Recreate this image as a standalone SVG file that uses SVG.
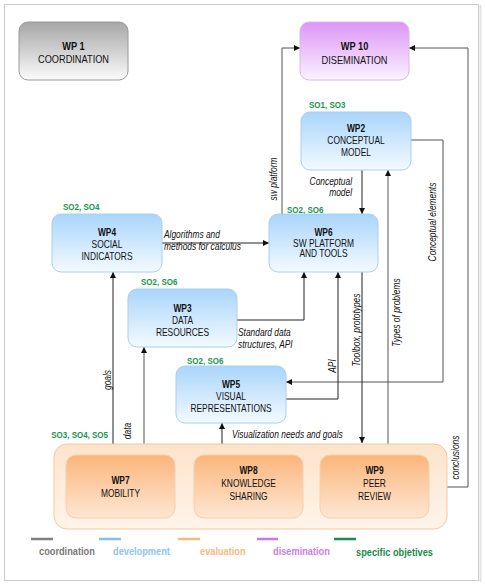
<svg xmlns="http://www.w3.org/2000/svg" width="485" height="586" viewBox="0 0 485 586">
<defs>
  <linearGradient id="gBlue" x1="0" y1="0" x2="0" y2="1">
    <stop offset="0" stop-color="#a9d5fb"/>
    <stop offset="1" stop-color="#f4faff"/>
  </linearGradient>
  <linearGradient id="gGray" x1="0" y1="0" x2="0" y2="1">
    <stop offset="0" stop-color="#a6a6a6"/>
    <stop offset="1" stop-color="#fbfbfb"/>
  </linearGradient>
  <linearGradient id="gPurple" x1="0" y1="0" x2="0" y2="1">
    <stop offset="0" stop-color="#dc95f6"/>
    <stop offset="1" stop-color="#fbf3ff"/>
  </linearGradient>
  <linearGradient id="gOrange" x1="0" y1="0" x2="0" y2="1">
    <stop offset="0" stop-color="#fbb57a"/>
    <stop offset="1" stop-color="#fde7d4"/>
  </linearGradient>
  <linearGradient id="gCont" x1="0" y1="0" x2="0" y2="1">
    <stop offset="0" stop-color="#fde3cb"/>
    <stop offset="1" stop-color="#fff4ea"/>
  </linearGradient>
  <marker id="arr" viewBox="0 0 10 10" refX="10" refY="5" markerWidth="6" markerHeight="6" markerUnits="userSpaceOnUse" orient="auto">
    <path d="M0,0 L10,5 L0,10 z" fill="#111"/>
  </marker>
  <style>
    text { font-family: "Liberation Sans", Arial, sans-serif; }
    .node rect.b { fill: url(#gBlue); stroke: #a9cfee; stroke-width: 1; }
    .t { font-size: 10px; fill: #111; text-anchor: middle; }
    .tb { font-size: 10px; font-weight: bold; fill: #111; text-anchor: middle; }
    .big { font-size: 11px; }
    .so { font-size: 9.5px; font-weight: bold; fill: #17964f; }
    .lbl { font-size: 10px; font-style: italic; fill: #111; }
    .rot { font-size: 10px; font-style: italic; fill: #111; text-anchor: middle; }
    .c { fill: none; stroke: #222; stroke-width: 1; }
    .cg { fill: none; stroke: #555; stroke-width: 1; }
    .leg { font-size: 11px; font-weight: bold; }
  </style>
</defs>
<rect x="0" y="0" width="485" height="586" fill="#ffffff"/>
<rect x="4.5" y="4.5" width="474" height="576" fill="#ffffff" stroke="#cacaca" stroke-width="1"/>
<line x1="480.5" y1="5" x2="480.5" y2="582" stroke="#e4e4e4" stroke-width="2"/>

<g id="connectors">
  <path class="c" d="M162,243 H269" marker-end="url(#arr)"/>
  <path class="c" d="M362,170 V214" marker-end="url(#arr)"/>
  <path class="cg" d="M282,214 V48 H300" marker-end="url(#arr)"/>
  <path class="cg" d="M447,487 H468 V48 H409" marker-end="url(#arr)"/>
  <path class="cg" d="M411,140 H443 V382 H286" marker-end="url(#arr)"/>
  <path class="c" d="M237,320 H304 V272" marker-end="url(#arr)"/>
  <path class="c" d="M286,399 H338 V272" marker-end="url(#arr)"/>
  <path class="c" d="M362,272 V443" marker-end="url(#arr)"/>
  <path class="cg" d="M388,444 V170" marker-end="url(#arr)"/>
  <path class="c" d="M113,444 V272" marker-end="url(#arr)"/>
  <path class="cg" d="M144,444 V347" marker-end="url(#arr)"/>
  <path class="c" d="M222,444 V423" marker-end="url(#arr)"/>

  <text class="lbl" transform="translate(164,238) scale(0.84,1)">Algorithms and</text>
  <text class="lbl" transform="translate(164,250) scale(0.84,1)">methods for calculus</text>
  <text class="lbl" text-anchor="end" transform="translate(352,185) scale(0.84,1)">Conceptual</text>
  <text class="lbl" text-anchor="end" transform="translate(352,196) scale(0.84,1)">model</text>
  <text class="lbl" transform="translate(238,335.5) scale(0.84,1)">Standard data</text>
  <text class="lbl" transform="translate(238,348) scale(0.84,1)">structures, API</text>
  <text class="lbl" transform="translate(232,438) scale(0.84,1)">Visualization needs and goals</text>
  <text class="rot" transform="translate(277,179) rotate(-90) scale(0.84,1)">sw platform</text>
  <text class="rot" transform="translate(436,222) rotate(-90) scale(0.84,1)">Conceptual elements</text>
  <text class="rot" transform="translate(400,312.5) rotate(-90) scale(0.84,1)">Types of problems</text>
  <text class="rot" transform="translate(360,330) rotate(-90) scale(0.84,1)">Toolbox, prototypes</text>
  <text class="rot" transform="translate(335.5,366) rotate(-90) scale(0.84,1)">API</text>
  <text class="rot" transform="translate(110.5,380) rotate(-90) scale(0.84,1)">goals</text>
  <text class="rot" transform="translate(130.5,431) rotate(-90) scale(0.84,1)">data</text>
  <text class="rot" transform="translate(458.5,457.5) rotate(-90) scale(0.84,1)">conclusions</text>
</g>

<g id="wp1" class="node">
  <rect x="19" y="22" width="109" height="58" rx="9" fill="url(#gGray)" stroke="#9a9a9a"/>
  <text class="tb big" transform="translate(73.5,50) scale(0.84,1)">WP 1</text>
  <text class="t big" transform="translate(73.5,63) scale(0.84,1)">COORDINATION</text>
</g>
<g id="wp10" class="node">
  <rect x="300" y="22" width="109" height="58" rx="9" fill="url(#gPurple)" stroke="#dcb6ef"/>
  <text class="tb big" transform="translate(354.5,50) scale(0.84,1)">WP 10</text>
  <text class="t big" transform="translate(354.5,64) scale(0.84,1)">DISEMINATION</text>
</g>
<g id="wp2" class="node">
  <text class="so" transform="translate(309,108) scale(0.84,1)">SO1, SO3</text>
  <rect class="b" x="301" y="112" width="110" height="58" rx="9"/>
  <text class="tb" transform="translate(356,132) scale(0.84,1)">WP2</text>
  <text class="t" transform="translate(356,144) scale(0.84,1)">CONCEPTUAL</text>
  <text class="t" transform="translate(356,156) scale(0.84,1)">MODEL</text>
</g>
<g id="wp6" class="node">
  <text class="so" transform="translate(287,213) scale(0.84,1)">SO2, SO6</text>
  <rect class="b" x="269" y="214" width="109" height="58" rx="9"/>
  <text class="tb" transform="translate(323.5,236) scale(0.84,1)">WP6</text>
  <text class="t" transform="translate(323.5,247) scale(0.84,1)">SW PLATFORM</text>
  <text class="t" transform="translate(323.5,256.5) scale(0.84,1)">AND TOOLS</text>
</g>
<g id="wp4" class="node">
  <text class="so" transform="translate(63,210) scale(0.84,1)">SO2, SO4</text>
  <rect class="b" x="52" y="214" width="110" height="58" rx="9"/>
  <text class="tb" transform="translate(107,236) scale(0.84,1)">WP4</text>
  <text class="t" transform="translate(107,248) scale(0.84,1)">SOCIAL</text>
  <text class="t" transform="translate(107,259.5) scale(0.84,1)">INDICATORS</text>
</g>
<g id="wp3" class="node">
  <text class="so" transform="translate(141,285) scale(0.84,1)">SO2, SO6</text>
  <rect class="b" x="128" y="289" width="109" height="58" rx="9"/>
  <text class="tb" transform="translate(182.5,312) scale(0.84,1)">WP3</text>
  <text class="t" transform="translate(182.5,324) scale(0.84,1)">DATA</text>
  <text class="t" transform="translate(182.5,336) scale(0.84,1)">RESOURCES</text>
</g>
<g id="wp5" class="node">
  <text class="so" transform="translate(187,364) scale(0.84,1)">SO2, SO6</text>
  <rect class="b" x="176" y="366" width="110" height="57" rx="9"/>
  <text class="tb" transform="translate(231,388) scale(0.84,1)">WP5</text>
  <text class="t" transform="translate(231,400) scale(0.84,1)">VISUAL</text>
  <text class="t" transform="translate(231,412) scale(0.84,1)">REPRESENTATIONS</text>
</g>
<g id="evaluation" class="node">
  <text class="so" text-anchor="end" transform="translate(108,437.5) scale(0.84,1)">SO3, SO4, SO5</text>
  <rect x="54" y="444" width="393" height="85" rx="13" fill="url(#gCont)" stroke="#f7c89c"/>
</g>
<g id="wp7" class="node">
  <rect x="66" y="455" width="109" height="63" rx="10" fill="url(#gOrange)" stroke="#f9cfa8"/>
  <text class="tb" transform="translate(120.5,484) scale(0.84,1)">WP7</text>
  <text class="t" transform="translate(120.5,497) scale(0.84,1)">MOBILITY</text>
</g>
<g id="wp8" class="node">
  <rect x="194" y="455" width="109" height="63" rx="10" fill="url(#gOrange)" stroke="#f9cfa8"/>
  <text class="tb" transform="translate(248.5,474) scale(0.84,1)">WP8</text>
  <text class="t" transform="translate(248.5,487) scale(0.84,1)">KNOWLEDGE</text>
  <text class="t" transform="translate(248.5,499.5) scale(0.84,1)">SHARING</text>
</g>
<g id="wp9" class="node">
  <rect x="320" y="455" width="109" height="63" rx="10" fill="url(#gOrange)" stroke="#f9cfa8"/>
  <text class="tb" transform="translate(374.5,474) scale(0.84,1)">WP9</text>
  <text class="t" transform="translate(374.5,487) scale(0.84,1)">PEER</text>
  <text class="t" transform="translate(374.5,499.5) scale(0.84,1)">REVIEW</text>
</g>

<g id="legend">
  <line x1="31" y1="539" x2="53" y2="539" stroke="#808080" stroke-width="2.5"/>
  <line x1="99" y1="539" x2="121" y2="539" stroke="#86bff0" stroke-width="2.5"/>
  <line x1="178" y1="539" x2="200" y2="539" stroke="#f9b87a" stroke-width="2.5"/>
  <line x1="257" y1="539" x2="278" y2="539" stroke="#c878ec" stroke-width="2.5"/>
  <line x1="334" y1="539" x2="356" y2="539" stroke="#1c8a4c" stroke-width="2.5"/>
  <text class="leg" fill="#7a7a7a" transform="translate(39,555) scale(0.84,1)">coordination</text>
  <text class="leg" fill="#8cc4f2" transform="translate(113,555) scale(0.84,1)">development</text>
  <text class="leg" fill="#f8b880" transform="translate(200,555) scale(0.84,1)">evaluation</text>
  <text class="leg" fill="#c97ee8" transform="translate(273,555) scale(0.84,1)">disemination</text>
  <text class="leg" fill="#1a8a48" transform="translate(356,555.5) scale(0.84,1)">specific objetives</text>
</g>
</svg>
